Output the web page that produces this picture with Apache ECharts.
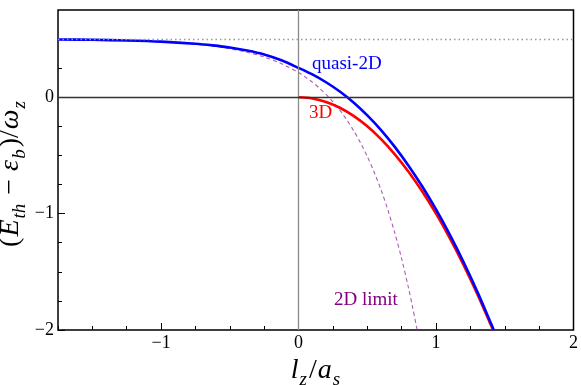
<!DOCTYPE html>
<html>
<head>
<meta charset="utf-8">
<script src="https://cdn.jsdelivr.net/npm/echarts@6/dist/echarts.min.js"></script>
<style>html,body{margin:0;padding:0;background:#fff}#c{width:581px;height:385px}</style>
</head>
<body>
<div id="c"></div>
<script>
// ---- data ----
const quasiX = [-1.75,-1.5,-1.25,-1,-0.75,-0.625,-0.5,-0.375,-0.25,-0.125,0,0.1,0.2,0.3,0.4,0.5,0.6,0.7,0.8,0.9,1.0,1.1,1.2,1.3,1.4,1.42];
const quasiY = [0.497,0.494,0.488,0.478,0.460,0.446,0.428,0.402,0.368,0.318,0.252,0.196,0.129,0.049,-0.045,-0.156,-0.282,-0.426,-0.588,-0.767,-0.964,-1.181,-1.416,-1.670,-1.944,-2.0];
const threeDX = [0,0.1,0.2,0.3,0.4,0.5,0.6,0.7,0.8,0.9,1.0,1.1,1.2,1.3,1.4,1.414];
const threeDY = [0,-0.01,-0.04,-0.09,-0.16,-0.25,-0.36,-0.49,-0.64,-0.81,-1,-1.21,-1.44,-1.69,-1.96,-2.0];
const limitX = [-1.75,-1.5,-1.25,-1,-0.75,-0.625,-0.5,-0.375,-0.25,-0.125,0,0.05,0.1,0.15,0.2,0.25,0.3,0.35,0.4,0.45,0.5,0.55,0.6,0.65,0.7,0.75,0.8,0.83,0.863];
const limitY = [0.496,0.493,0.487,0.477,0.456,0.440,0.418,0.3875,0.346,0.289,0.212,0.173,0.130,0.080,0.024,-0.039,-0.111,-0.193,-0.285,-0.390,-0.509,-0.644,-0.796,-0.969,-1.166,-1.388,-1.640,-1.807,-2.0];
const thresholdLevel = 0.5;
const xMajor = [-1,0,1,2];
const xMinor = [-1.75,-1.5,-1.25,-0.75,-0.5,-0.25,0.25,0.5,0.75,1.25,1.5,1.75];
const yMajor = [-2,-1,0];
const yMinor = [-1.75,-1.5,-1.25,-0.75,-0.5,-0.25,0.25,0.5];
const xRange = [-1.75, 2];
const yRange = [-2, 0.75];

const pairs = (xs, ys) => xs.map((x, i) => [x, ys[i]]);
const fmt = v => (v < 0 ? '\u2212' + Math.abs(v) : String(v));
const SERIF = 'Liberation Serif';

const chart = echarts.init(document.getElementById('c'), null, {renderer: 'canvas'});

function makeAxis(range, major, minor, isX) {
  const pos = isX ? 'bottom' : 'left';
  return [
    {
      type: 'value', min: range[0], max: range[1], position: pos,
      axisLine: {show: false, onZero: false}, splitLine: {show: false},
      axisTick: {show: true, inside: true, length: 7, customValues: major, lineStyle: {color: '#000', width: 1}},
      axisLabel: {customValues: major, formatter: fmt, fontFamily: SERIF, fontSize: 18, color: '#000', margin: isX ? 4 : 4}
    },
    {
      type: 'value', min: range[0], max: range[1], position: pos,
      axisLine: {show: false, onZero: false}, splitLine: {show: false},
      axisTick: {show: true, inside: true, length: 4, customValues: minor, lineStyle: {color: '#000', width: 1}},
      axisLabel: {show: false}
    }
  ];
}

const sub = {fontFamily: SERIF, fontStyle: 'italic', fontSize: 19, verticalAlign: 'top', padding: [14, 1, 0, 0]};
const it = {fontFamily: SERIF, fontStyle: 'italic', fontSize: 28, verticalAlign: 'top', padding: [0, 1, 0, 0]};
const rm = {fontFamily: SERIF, fontSize: 28, verticalAlign: 'top', padding: [0, 1, 0, 1]};

const option = {
  animation: false,
  backgroundColor: '#fff',
  grid: {left: 58, right: 5, top: 10, bottom: 55, show: true, borderColor: '#000', borderWidth: 1.5, containLabel: false},
  xAxis: makeAxis(xRange, xMajor, xMinor, true),
  yAxis: makeAxis(yRange, yMajor, yMinor, false),
  series: [
    {
      name: '2D limit', type: 'line', data: pairs(limitX, limitY), smooth: 0.3, showSymbol: false,
      lineStyle: {color: 'rgba(140,40,150,0.75)', width: 1.1, type: [4, 3]}, z: 2,
      markLine: {
        silent: true, symbol: 'none', label: {show: false},
        data: [
          {xAxis: 0, lineStyle: {color: '#8a8a8a', width: 1.3, type: 'solid'}},
          {yAxis: 0, lineStyle: {color: '#333', width: 1.3, type: 'solid'}},
          {yAxis: thresholdLevel, lineStyle: {color: '#999', width: 1.3, type: [1.5, 3]}}
        ]
      }
    },
    {
      name: '3D', type: 'line', data: pairs(threeDX, threeDY), smooth: 0.3, showSymbol: false,
      lineStyle: {color: '#ff0000', width: 2.6}, z: 3
    },
    {
      name: 'quasi-2D', type: 'line', data: pairs(quasiX, quasiY), smooth: 0.3, showSymbol: false,
      lineStyle: {color: '#0000ff', width: 2.6}, z: 4
    }
  ],
  graphic: [
    {type: 'text', left: 312, top: 55, style: {text: 'quasi-2D', fill: '#0000ff', font: '19px "Liberation Serif"'}},
    {type: 'text', left: 309, top: 104, style: {text: '3D', fill: '#ff0000', font: '19px "Liberation Serif"'}},
    {type: 'text', left: 334, top: 291, style: {text: '2D limit', fill: '#800080', font: '19px "Liberation Serif"'}},
    {
      type: 'text', x: 316, y: 373,
      style: {
        text: '{i|l}{s|z}{r|/}{i|a}{s|s}',
        rich: {i: it, s: sub, r: rm}, align: 'center', verticalAlign: 'middle', fill: '#000'
      }
    },
    {
      type: 'text', x: 13, y: 174, rotation: Math.PI / 2,
      style: {
        text: '{r|(}{i|E}{s|th}{r| \u2212 }{i|\u03b5}{s|b}{r|)/}{i|\u03c9}{s|z}',
        rich: {i: it, s: sub, r: rm}, align: 'center', verticalAlign: 'middle', fill: '#000'
      }
    }
  ]
};
chart.setOption(option);
</script>
</body>
</html>
